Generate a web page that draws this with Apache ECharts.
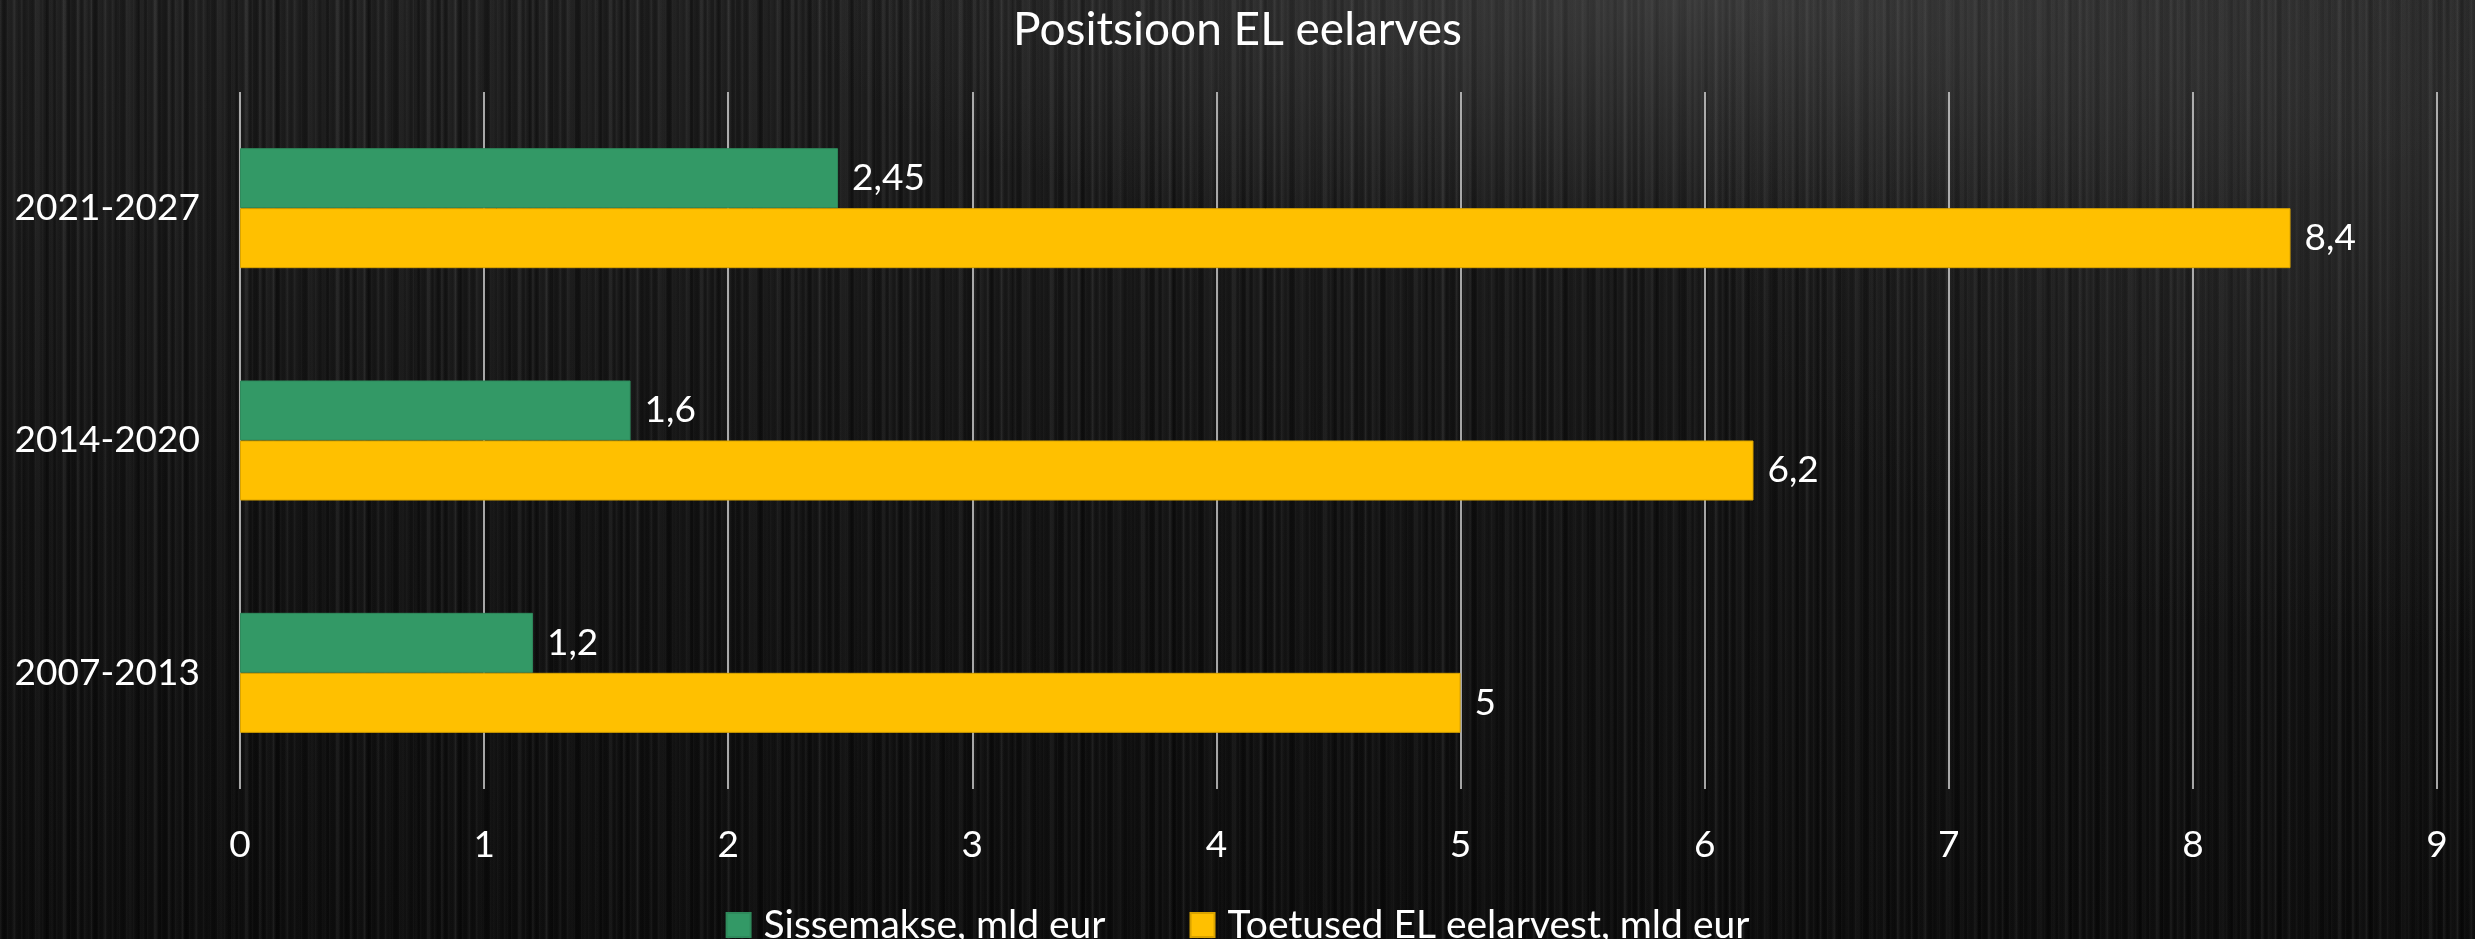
<!DOCTYPE html>
<html>
<head>
<meta charset="utf-8">
<title>Positsioon EL eelarves</title>
<script src="https://cdn.jsdelivr.net/npm/echarts@6/dist/echarts.min.js"></script>
<style>
  html, body { margin: 0; padding: 0; }
  body {
    width: 2475px;
    height: 939px;
    background-color: #151515;
    background-image:
      radial-gradient(ellipse 900px 260px at 1700px 0px, rgba(90, 90, 90, 0.45), rgba(90, 90, 90, 0) 100%),
      radial-gradient(ellipse 700px 500px at 2400px 150px, rgba(70, 70, 70, 0.35), rgba(70, 70, 70, 0) 100%),
      repeating-linear-gradient(90deg, rgba(255,255,255,0.035) 0px, rgba(255,255,255,0) 2px, rgba(0,0,0,0.25) 5px, rgba(255,255,255,0) 7px),
      repeating-linear-gradient(90deg, rgba(255,255,255,0.04) 0px, rgba(0,0,0,0.2) 3px, rgba(255,255,255,0) 11px, rgba(255,255,255,0.03) 13px),
      repeating-linear-gradient(90deg, rgba(0,0,0,0.3) 0px, rgba(255,255,255,0.02) 17px, rgba(0,0,0,0.15) 23px),
      linear-gradient(180deg, #262626 0%, #161616 55%, #0e0e0e 100%);
  }
  #chart { width: 2475px; height: 939px; }
</style>
</head>
<body>
<div id="chart"></div>
<script>
// periods, top to bottom as in the original chart
const categories = ['2021-2027', '2014-2020', '2007-2013'];
const seriesNames = ['Sissemakse, mld eur', 'Toetused EL eelarvest, mld eur'];
const contributions = [2.45, 1.6, 1.2];
const receipts = [8.4, 6.2, 5];
const xTicks = [0, 1, 2, 3, 4, 5, 6, 7, 8, 9];

const font = 'Lato, "Open Sans", sans-serif';
const comma = v => String(v).replace('.', ',');

const chart = echarts.init(document.getElementById('chart'));

const barLabel = {
  show: true,
  position: 'right',
  distance: 14,
  color: '#ffffff',
  fontSize: 37,
  fontFamily: font,
  formatter: p => comma(p.value),
};

chart.setOption({
  backgroundColor: 'transparent',
  animation: false,
  textStyle: { fontFamily: font },
  title: {
    text: 'Positsioon EL eelarves',
    left: 'center',
    top: 2,
    textStyle: { color: '#ffffff', fontSize: 46, fontWeight: 'normal', fontFamily: font },
  },
  legend: {
    data: seriesNames,
    left: 'center',
    top: 900,
    itemWidth: 24,
    itemHeight: 24,
    itemGap: 84,
    icon: 'rect',
    textStyle: {
      color: '#ffffff',
      fontSize: 39,
      lineHeight: 40,
      fontFamily: font,
      padding: [0, 0, 0, 8],
    },
  },
  grid: {
    left: 240,
    right: 38,
    top: 92,
    bottom: 150,
  },
  xAxis: {
    type: 'value',
    min: xTicks[0],
    max: xTicks[xTicks.length - 1],
    interval: 1,
    axisLine: { show: false },
    axisTick: { show: false },
    axisLabel: {
      color: '#ffffff',
      fontSize: 37,
      fontFamily: font,
      margin: 38,
    },
    splitLine: {
      show: true,
      lineStyle: { color: '#d9d9d9', width: 1.5 },
    },
  },
  yAxis: {
    type: 'category',
    data: categories,
    inverse: true,
    axisLine: { show: false },
    axisTick: { show: false },
    axisLabel: {
      color: '#ffffff',
      fontSize: 37,
      fontFamily: font,
      margin: 40,
    },
    splitLine: { show: false },
  },
  series: [
    {
      name: seriesNames[0],
      type: 'bar',
      data: contributions,
      barWidth: 60,
      barGap: '0%',
      itemStyle: { color: '#339966', borderColor: '#2f8a5c', borderWidth: 1 },
      label: barLabel,
    },
    {
      name: seriesNames[1],
      type: 'bar',
      data: receipts,
      barWidth: 60,
      barGap: '0%',
      itemStyle: { color: '#ffc000', borderColor: '#d9a300', borderWidth: 1 },
      label: barLabel,
    },
  ],
});
</script>
</body>
</html>
